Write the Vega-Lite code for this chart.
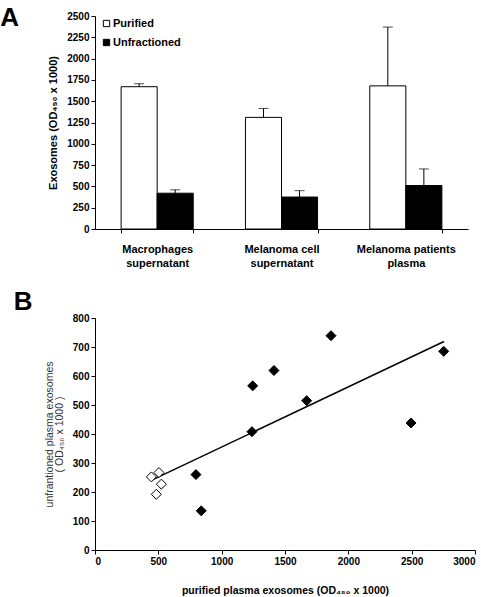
{
  "$schema": "https://vega.github.io/schema/vega-lite/v6.json",
  "background": "white",
  "padding": {"top": 5, "left": 0, "right": 8, "bottom": 5},
  "spacing": 21,
  "columns": 1,
  "align": "none",
  "resolve": {"scale": {"fill": "independent"}, "legend": {"fill": "independent"}},
  "config": {
    "font": "Liberation Sans",
    "view": {"stroke": null},
    "axis": {
      "labelFont": "Liberation Sans",
      "labelFontWeight": "bold",
      "labelFontSize": 10,
      "labelColor": "black",
      "domainColor": "black",
      "tickColor": "black",
      "grid": false,
      "titleFont": "Liberation Sans",
      "titleColor": "black",
      "tickSize": 4
    }
  },
  "concat": [
    {
      "width": 373,
      "height": 213,
      "title": {"text": "A", "orient": "left", "anchor": "end", "angle": 0, "fontSize": 26, "font": "Liberation Sans", "fontWeight": "bold", "align": "right", "baseline": "top", "offset": 10, "dy": -6},
      "data": {
        "values": [
          {"cat": "Macrophages|supernatant", "series": "Purified", "value": 1670, "upper": 1705},
          {"cat": "Macrophages|supernatant", "series": "Unfractioned", "value": 420, "upper": 460},
          {"cat": "Melanoma cell|supernatant", "series": "Purified", "value": 1310, "upper": 1415},
          {"cat": "Melanoma cell|supernatant", "series": "Unfractioned", "value": 375, "upper": 450},
          {"cat": "Melanoma patients|plasma", "series": "Purified", "value": 1680, "upper": 2370},
          {"cat": "Melanoma patients|plasma", "series": "Unfractioned", "value": 510, "upper": 705}
        ]
      },
      "encoding": {
        "x": {
          "field": "cat", "type": "nominal", "sort": null,
          "scale": {"paddingInner": 0.42, "paddingOuter": 0.21},
          "axis": {"title": null, "labelAngle": 0, "labelExpr": "split(datum.label, '|')", "tickBand": "extent", "labelPadding": 10, "labelFontSize": 11, "labelLineHeight": 14}
        },
        "xOffset": {"field": "series", "type": "nominal", "sort": ["Purified", "Unfractioned"], "scale": {"paddingInner": 0, "paddingOuter": 0}},
        "y": {
          "field": "value", "type": "quantitative",
          "scale": {"domain": [0, 2500]},
          "axis": {"values": [0, 250, 500, 750, 1000, 1250, 1500, 1750, 2000, 2250, 2500], "format": "d", "title": "Exosomes (OD₄₅₀ x 1000)", "titleFontSize": 11, "titleFontWeight": "bold", "titlePadding": 8}
        }
      },
      "layer": [
        {
          "mark": {"type": "bar", "stroke": "black", "strokeWidth": 1},
          "encoding": {
            "fill": {
              "field": "series", "type": "nominal",
              "scale": {"domain": ["Purified", "Unfractioned"], "range": ["white", "black"]},
              "legend": {"title": null, "orient": "none", "legendX": 6, "legendY": 2, "symbolType": "square", "symbolStrokeColor": "black", "symbolStrokeWidth": 1, "symbolSize": 40, "labelFontWeight": "bold", "labelFontSize": 11, "labelFont": "Liberation Sans", "labelColor": "black", "rowPadding": 7, "labelOffset": 1}
            }
          }
        },
        {
          "mark": {"type": "rule", "color": "black", "strokeWidth": 1},
          "encoding": {
            "y2": {"field": "upper"}
          }
        },
        {
          "mark": {"type": "tick", "color": "black", "size": 10, "thickness": 1},
          "encoding": {
            "y": {"field": "upper", "type": "quantitative"}
          }
        }
      ]
    },
    {
      "width": 380,
      "height": 232,
      "title": {"text": "B", "orient": "left", "anchor": "end", "angle": 0, "fontSize": 26, "font": "Liberation Sans", "fontWeight": "bold", "align": "right", "baseline": "top", "offset": -7, "dy": -24},
      "encoding": {
        "x": {
          "field": "purified", "type": "quantitative",
          "scale": {"domain": [0, 3000]},
          "axis": {"values": [0, 500, 1000, 1500, 2000, 2500, 3000], "format": "d", "title": "purified plasma exosomes (OD₄₅₀ x 1000)", "titleFontSize": 10.5, "titleFontWeight": "bold", "titlePadding": 19}
        },
        "y": {
          "field": "unfractioned", "type": "quantitative",
          "scale": {"domain": [0, 800]},
          "axis": {"values": [0, 100, 200, 300, 400, 500, 600, 700, 800], "format": "d", "title": ["unfrantioned plasma exosomes", "( OD₄₅₀ x 1000 )"], "titleFontSize": 10.5, "titleFontWeight": "normal", "titleColor": "#333333", "titlePadding": 8, "titleLineHeight": 10}
        }
      },
      "layer": [
        {
          "data": {"values": [{"purified": 440, "unfractioned": 239}, {"purified": 2755, "unfractioned": 719}]},
          "mark": {"type": "line", "color": "black", "strokeWidth": 1.5}
        },
        {
          "data": {
            "values": [
              {"purified": 445, "unfractioned": 252, "group": "healthy"},
              {"purified": 505, "unfractioned": 267, "group": "healthy"},
              {"purified": 524, "unfractioned": 227, "group": "healthy"},
              {"purified": 484, "unfractioned": 192, "group": "healthy"},
              {"purified": 797, "unfractioned": 260, "group": "patients"},
              {"purified": 839, "unfractioned": 135, "group": "patients"},
              {"purified": 1245, "unfractioned": 566, "group": "patients"},
              {"purified": 1239, "unfractioned": 408, "group": "patients"},
              {"purified": 1413, "unfractioned": 619, "group": "patients"},
              {"purified": 1671, "unfractioned": 515, "group": "patients"},
              {"purified": 1863, "unfractioned": 739, "group": "patients"},
              {"purified": 2495, "unfractioned": 438, "group": "patients"},
              {"purified": 2753, "unfractioned": 685, "group": "patients"}
            ]
          },
          "mark": {"type": "point", "shape": "diamond", "filled": true, "stroke": "black", "strokeWidth": 1, "opacity": 1, "size": 100},
          "encoding": {
            "fill": {"field": "group", "type": "nominal", "scale": {"domain": ["healthy", "patients"], "range": ["white", "black"]}, "legend": null}
          }
        },
        {
          "mark": {"type": "text", "text": "R² = 0.79", "fontWeight": "bold", "fontSize": 11, "font": "Liberation Sans", "color": "black"},
          "encoding": {"x": {"datum": 2045, "type": "quantitative"}, "y": {"datum": 329, "type": "quantitative"}}
        },
        {
          "mark": {"type": "text", "text": "P = 0.001", "fontWeight": "bold", "fontSize": 11, "font": "Liberation Sans", "color": "black"},
          "encoding": {"x": {"datum": 2045, "type": "quantitative"}, "y": {"datum": 270, "type": "quantitative"}}
        }
      ]
    }
  ]
}
